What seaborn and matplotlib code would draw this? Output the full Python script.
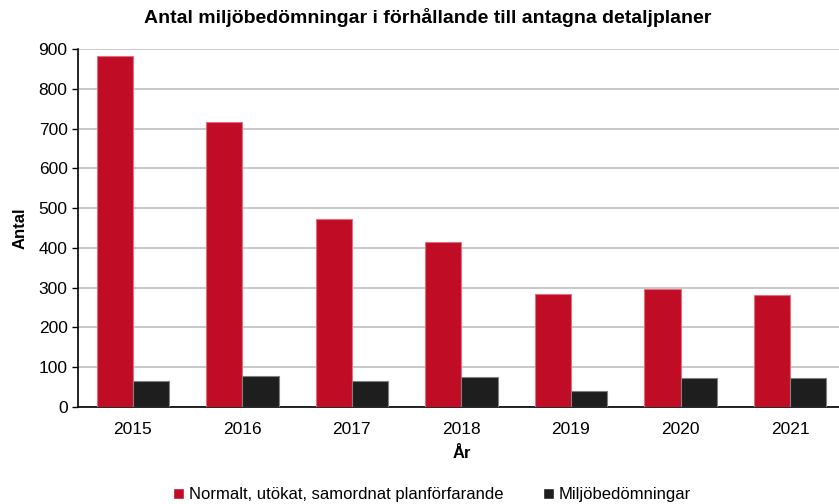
import pandas as pd
import seaborn as sns
import matplotlib.pyplot as plt
from matplotlib.ticker import FixedLocator

# values
years = ["2015", "2016", "2017", "2018", "2019", "2020", "2021"]
planer = [882, 718, 472, 414, 285, 297, 282]
miljo = [66, 78, 66, 75, 40, 72, 74]
series = ["Normalt, utökat, samordnat planförfarande", "Miljöbedömningar"]
colors = ["#C10C25", "#1E1E1E"]

df = pd.DataFrame({
    "År": years * 2,
    "Antal": planer + miljo,
    "serie": [series[0]] * len(years) + [series[1]] * len(years),
})

sns.set_style("white")
plt.rcParams["font.family"] = ["Liberation Sans", "DejaVu Sans"]
plt.rcParams["text.color"] = "black"
plt.rcParams["axes.labelcolor"] = "black"
plt.rcParams["xtick.color"] = "black"
plt.rcParams["ytick.color"] = "black"

fig = plt.figure(figsize=(8.39, 5.04), dpi=100)
ax = fig.add_axes([0.093, 0.1925, 0.914, 0.71])

sns.barplot(data=df, x="År", y="Antal", hue="serie", palette=colors,
            width=0.66, saturation=1, ax=ax, zorder=3)
for bar_container, ec in zip(ax.containers, ["#E07080", "#808080"]):
    for p in bar_container:
        p.set_edgecolor(ec)
        p.set_linewidth(0.8)

ax.set_xlim(-0.5, len(years) - 0.5)
ax.set_ylim(0, 900)
ax.set_yticks(range(0, 901, 100))
ax.yaxis.grid(True, color="#C4C4C4", linewidth=1.3, zorder=0)
ax.set_axisbelow(True)

ax.tick_params(axis="x", which="major", length=0, labelsize=12.5, pad=11)
ax.xaxis.set_minor_locator(FixedLocator([i - 0.5 for i in range(len(years) + 1)]))
ax.tick_params(axis="x", which="minor", length=4, width=1, direction="out", color="black")
ax.tick_params(axis="y", length=4, width=1, direction="out", labelsize=12.5, color="black", left=True)

for s in ["top", "right"]:
    ax.spines[s].set_visible(False)
for s in ["left", "bottom"]:
    ax.spines[s].set_color("black")
    ax.spines[s].set_linewidth(1.2)

ax.set_xlabel("År", fontsize=12, fontweight="bold", labelpad=6)
ax.set_ylabel("Antal", fontsize=12, fontweight="bold", labelpad=8)
fig.suptitle("Antal miljöbedömningar i förhållande till antagna detaljplaner",
             fontsize=14, fontweight="bold", x=0.51, y=0.985)

ax.legend_.remove()
handles, labels = ax.get_legend_handles_labels()
fig.legend(handles, labels, loc="lower center", bbox_to_anchor=(0.515, -0.026),
           ncol=2, frameon=False, fontsize=12, handlelength=0.65,
           handleheight=0.65, handletextpad=0.3, columnspacing=2.4)

fig.savefig("out.png", dpi=100)
